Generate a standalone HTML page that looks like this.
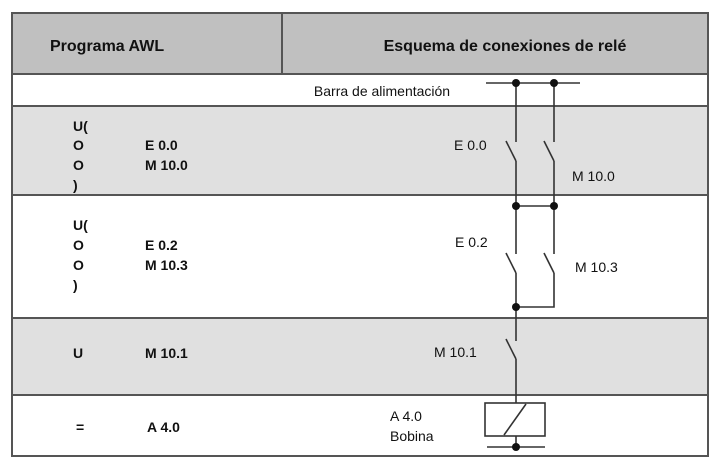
<!DOCTYPE html>
<html><head><meta charset="utf-8"><style>
html,body{margin:0;padding:0;background:#fff;width:722px;height:469px;overflow:hidden}
svg{display:block}
text{font-family:"Liberation Sans",Arial,sans-serif;fill:#111}
.b{font-weight:bold;font-size:14px}
.n{font-size:14px}
</style></head><body>
<svg width="722" height="469" viewBox="0 0 722 469">
<rect x="12" y="13" width="696" height="61" fill="#c0c0c0"/>
<rect x="12" y="106" width="696" height="89" fill="#e0e0e0"/>
<rect x="12" y="318" width="696" height="77" fill="#e0e0e0"/>
<g stroke="#555" stroke-width="2" fill="none">
<rect x="12" y="13" width="696" height="443"/>
<line x1="282" y1="13" x2="282" y2="74"/>
<line x1="12" y1="74" x2="708" y2="74"/>
<line x1="12" y1="106" x2="708" y2="106"/>
<line x1="12" y1="195" x2="708" y2="195"/>
<line x1="12" y1="318" x2="708" y2="318"/>
<line x1="12" y1="395" x2="708" y2="395"/>
</g>
<text x="50" y="51" class="b" style="font-size:16px">Programa AWL</text>
<text x="505" y="51" class="b" text-anchor="middle" style="font-size:16px">Esquema de conexiones de relé</text>
<text x="382" y="96" class="n" text-anchor="middle">Barra de alimentación</text>
<g class="b">
<text x="73" y="131">U(</text><text x="73" y="150">O</text><text x="73" y="170">O</text><text x="73" y="190">)</text>
<text x="145" y="150">E 0.0</text><text x="145" y="170">M 10.0</text>
<text x="73" y="230">U(</text><text x="73" y="250">O</text><text x="73" y="270">O</text><text x="73" y="290">)</text>
<text x="145" y="250">E 0.2</text><text x="145" y="270">M 10.3</text>
<text x="73" y="358">U</text><text x="145" y="358">M 10.1</text>
<text x="76" y="432">=</text><text x="147" y="432">A 4.0</text>
</g>
<g class="n">
<text x="454" y="150">E 0.0</text>
<text x="572" y="181">M 10.0</text>
<text x="455" y="247">E 0.2</text>
<text x="575" y="272">M 10.3</text>
<text x="434" y="357">M 10.1</text>
<text x="390" y="421">A 4.0</text>
<text x="390" y="441">Bobina</text>
</g>
<g stroke="#333" stroke-width="1.6" fill="none">
<line x1="486" y1="83" x2="580" y2="83"/>
<line x1="516" y1="83" x2="516" y2="142"/>
<line x1="554" y1="83" x2="554" y2="142"/>
<line x1="506" y1="141" x2="516" y2="161"/>
<line x1="544" y1="141" x2="554" y2="161"/>
<line x1="516" y1="161" x2="516" y2="254"/>
<line x1="554" y1="161" x2="554" y2="254"/>
<line x1="516" y1="206" x2="554" y2="206"/>
<line x1="506" y1="253" x2="516" y2="273"/>
<line x1="544" y1="253" x2="554" y2="273"/>
<line x1="516" y1="273" x2="516" y2="341"/>
<polyline points="554,273 554,307 516,307"/>
<line x1="506" y1="339" x2="516" y2="359"/>
<line x1="516" y1="359" x2="516" y2="403"/>
<rect x="485" y="403" width="60" height="33"/>
<line x1="504" y1="435" x2="526" y2="404"/>
<line x1="516" y1="436" x2="516" y2="447"/>
<line x1="487" y1="447" x2="545" y2="447"/>
</g>
<g fill="#111">
<circle cx="516" cy="83" r="4"/><circle cx="554" cy="83" r="4"/>
<circle cx="516" cy="206" r="4"/><circle cx="554" cy="206" r="4"/>
<circle cx="516" cy="307" r="4"/><circle cx="516" cy="447" r="4"/>
</g>
</svg>
</body></html>
